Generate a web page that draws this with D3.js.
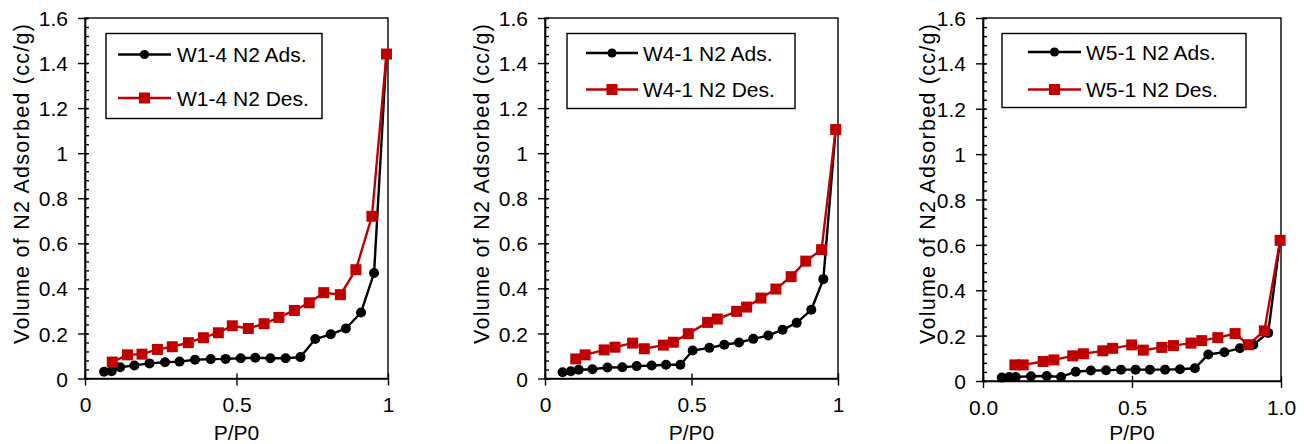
<!DOCTYPE html>
<html><head><meta charset="utf-8">
<script src="https://cdn.jsdelivr.net/npm/d3@7"></script>
<style>
body{margin:0;background:#fff}
text{font-family:"Liberation Sans",Arial,sans-serif;fill:#000}
</style>
</head><body>
<svg id="chart" width="1304" height="444"></svg>
<script>
// ---------- data ----------
const yTicks = [0, 0.2, 0.4, 0.6, 0.8, 1, 1.2, 1.4, 1.6];
const yTickLabels = ["0", "0.2", "0.4", "0.6", "0.8", "1", "1.2", "1.4", "1.6"];
const xTicks = [0, 0.5, 1];
const xTickLabelsA = ["0", "0.5", "1"];
const xTickLabelsB = ["0.0", "0.5", "1.0"];
const sampleNames = ["W1-4", "W4-1", "W5-1"];
const seriesNames = ["N2 Ads.", "N2 Des."];
const xTitle = "P/P0";
const yTitle = "Volume of N2 Adsorbed  (cc/g)";

// W1-4
const w14AdsP = [0.063,0.088,0.116,0.163,0.213,0.264,0.312,0.363,0.415,0.464,0.514,0.562,0.612,0.662,0.711,0.760,0.811,0.861,0.911,0.954,0.995];
const w14AdsV = [0.030,0.032,0.050,0.058,0.067,0.072,0.075,0.083,0.086,0.087,0.090,0.092,0.090,0.090,0.095,0.175,0.196,0.222,0.293,0.468,1.44];
const w14DesP = [0.090,0.140,0.188,0.239,0.288,0.341,0.391,0.440,0.486,0.539,0.591,0.640,0.691,0.740,0.788,0.843,0.894,0.947,0.995];
const w14DesV = [0.073,0.105,0.108,0.129,0.141,0.159,0.181,0.203,0.234,0.222,0.243,0.271,0.302,0.336,0.381,0.372,0.483,0.720,1.44];

// W4-1
const w41AdsP = [0.060,0.088,0.115,0.162,0.213,0.264,0.313,0.364,0.413,0.462,0.504,0.561,0.612,0.662,0.711,0.762,0.811,0.859,0.909,0.950,0.992];
const w41AdsV = [0.028,0.032,0.039,0.041,0.049,0.050,0.055,0.058,0.061,0.061,0.124,0.136,0.150,0.160,0.176,0.191,0.216,0.247,0.305,0.441,1.105];
const w41DesP = [0.105,0.137,0.202,0.239,0.299,0.339,0.404,0.438,0.489,0.555,0.588,0.654,0.688,0.737,0.788,0.840,0.890,0.944,0.992];
const w41DesV = [0.087,0.105,0.127,0.139,0.157,0.132,0.148,0.161,0.199,0.249,0.264,0.298,0.317,0.357,0.397,0.452,0.521,0.572,1.105];

// W5-1
const w51AdsP = [0.063,0.088,0.110,0.161,0.214,0.262,0.311,0.362,0.413,0.463,0.512,0.560,0.611,0.661,0.711,0.756,0.810,0.862,0.907,0.957,0.997];
const w51AdsV = [0.015,0.018,0.018,0.021,0.022,0.018,0.041,0.046,0.047,0.050,0.050,0.050,0.050,0.052,0.056,0.117,0.127,0.144,0.160,0.212,0.620];
const w51DesP = [0.107,0.135,0.202,0.238,0.301,0.337,0.402,0.435,0.499,0.538,0.600,0.639,0.698,0.734,0.788,0.846,0.890,0.944,0.997];
const w51DesV = [0.071,0.071,0.086,0.093,0.111,0.120,0.133,0.144,0.159,0.136,0.148,0.156,0.167,0.178,0.191,0.209,0.160,0.221,0.620];

// ---------- layout ----------
const FS = 21;
const RED = "#C00000";
const panels = [
  {name: sampleNames[0], ads:[w14AdsP,w14AdsV], des:[w14DesP,w14DesV], xLabels:xTickLabelsA,
   L:85, R:388, T:18, B:378.5, titleX:29,
   leg:{x:106, y:33.5, w:216, h:85, ya:54.5, yd:98, lx0:118, lx1:171, tx:177}},
  {name: sampleNames[1], ads:[w41AdsP,w41AdsV], des:[w41DesP,w41DesV], xLabels:xTickLabelsA,
   L:545, R:838, T:18, B:378.5, titleX:489,
   leg:{x:567, y:33.5, w:228, h:75, ya:53, yd:89.5, lx0:586, lx1:638, tx:643}},
  {name: sampleNames[2], ads:[w51AdsP,w51AdsV], des:[w51DesP,w51DesV], xLabels:xTickLabelsB,
   L:983, R:1281, T:18, B:381, titleX:935,
   leg:{x:1002, y:33.5, w:244, h:74, ya:52, yd:89.5, lx0:1028, lx1:1081, tx:1086}}
];

const svg = d3.select("#chart");
const yMinor = d3.range(0, 1.6001, 0.04);

panels.forEach(p => {
  const x = d3.scaleLinear().domain([0,1]).range([p.L, p.R]);
  const y = d3.scaleLinear().domain([0,1.6]).range([p.B, p.T]);
  const g = svg.append("g");

  // frame
  g.append("rect").attr("x", p.L).attr("y", p.T).attr("width", p.R-p.L).attr("height", p.B-p.T)
    .attr("fill","none").attr("stroke","#000").attr("stroke-width",1.4);

  // minor y ticks (inside)
  const minor = g.append("g").attr("transform", `translate(${p.L},0)`)
    .call(d3.axisRight(y).tickValues(yMinor).tickSize(4).tickFormat(""));
  minor.select(".domain").remove();
  minor.selectAll("line").attr("stroke","#000").attr("stroke-width",1.4);

  // major y ticks
  const ya = g.append("g").attr("transform", `translate(${p.L},0)`)
    .call(d3.axisLeft(y).tickValues(yTicks).tickSizeInner(7).tickSizeOuter(0).tickPadding(10)
      .tickFormat((d,i)=>yTickLabels[i]));
  ya.select(".domain").attr("stroke","#000").attr("stroke-width",1.6);
  ya.selectAll(".tick line").attr("stroke","#000").attr("stroke-width",1.4).attr("x2",-7).attr("x1",3);
  ya.selectAll(".tick text").attr("font-size",FS).attr("font-family",null).attr("fill","#000").attr("dy","0.36em");

  // x axis
  const xa = g.append("g").attr("transform", `translate(0,${p.B})`)
    .call(d3.axisBottom(x).tickValues(xTicks).tickSizeInner(7).tickSizeOuter(0).tickPadding(12)
      .tickFormat((d,i)=>p.xLabels[i]));
  xa.select(".domain").attr("stroke","#000").attr("stroke-width",1.6);
  xa.selectAll(".tick line").attr("stroke","#000").attr("stroke-width",1.4).attr("y1",-5).attr("y2",7);
  xa.selectAll(".tick text").attr("font-size",FS).attr("font-family",null).attr("fill","#000");

  // titles
  g.append("text").attr("x",(p.L+p.R)/2).attr("y",440).attr("text-anchor","middle")
    .attr("font-size",FS).text(xTitle);
  g.append("text").attr("transform",`translate(${p.titleX},184) rotate(-90)`)
    .attr("text-anchor","middle").attr("font-size",21.5)
    .attr("textLength",320).attr("lengthAdjust","spacing").text(yTitle);

  // series
  const line = d3.line().x(d=>x(d[0])).y(d=>y(d[1]));
  const ads = d3.zip(p.ads[0], p.ads[1]);
  const des = d3.zip(p.des[0], p.des[1]);

  g.append("path").datum(ads).attr("d",line).attr("fill","none").attr("stroke","#000").attr("stroke-width",2.4);
  g.selectAll(".ac").data(ads).enter().append("circle")
    .attr("cx",d=>x(d[0])).attr("cy",d=>y(d[1])).attr("r",5).attr("fill","#000");

  g.append("path").datum(des).attr("d",line).attr("fill","none").attr("stroke",RED).attr("stroke-width",2.4);
  g.selectAll(".ds").data(des).enter().append("rect")
    .attr("x",d=>x(d[0])-5.5).attr("y",d=>y(d[1])-5.5).attr("width",11).attr("height",11).attr("fill",RED);

  // legend
  const L = p.leg;
  const lg = g.append("g");
  lg.append("rect").attr("x",L.x).attr("y",L.y).attr("width",L.w).attr("height",L.h)
    .attr("fill","#fff").attr("stroke","#000").attr("stroke-width",1.4);
  const mx = (L.lx0+L.lx1)/2;
  lg.append("line").attr("x1",L.lx0).attr("x2",L.lx1).attr("y1",L.ya).attr("y2",L.ya).attr("stroke","#000").attr("stroke-width",2.4);
  lg.append("circle").attr("cx",mx).attr("cy",L.ya).attr("r",4.6).attr("fill","#000");
  lg.append("text").attr("x",L.tx).attr("y",L.ya).attr("dy","0.36em").attr("font-size",FS).text(p.name+" "+seriesNames[0]);
  lg.append("line").attr("x1",L.lx0).attr("x2",L.lx1).attr("y1",L.yd).attr("y2",L.yd).attr("stroke",RED).attr("stroke-width",2.4);
  lg.append("rect").attr("x",mx-5.5).attr("y",L.yd-5.5).attr("width",11).attr("height",11).attr("fill",RED);
  lg.append("text").attr("x",L.tx).attr("y",L.yd).attr("dy","0.36em").attr("font-size",FS).text(p.name+" "+seriesNames[1]);
});
</script>
</body></html>
